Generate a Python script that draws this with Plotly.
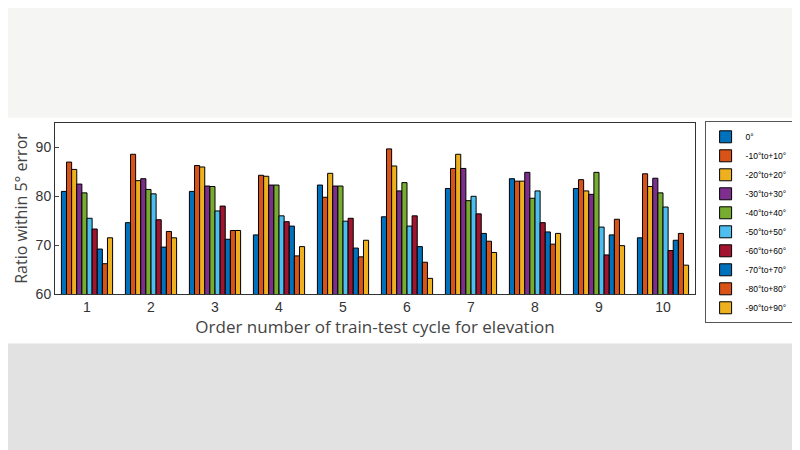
import plotly.graph_objects as go

cycles = [str(i) for i in range(1, 11)]
series_names = ["0°", "-10°to+10°", "-20°to+20°", "-30°to+30°", "-40°to+40°",
                "-50°to+50°", "-60°to+60°", "-70°to+70°", "-80°to+80°", "-90°to+90°"]

# values per cycle (rows) for each elevation range (columns)
g1 = [81.0, 87.0, 85.5, 82.5, 80.7, 75.5, 73.3, 69.2, 66.2, 71.5]
g2 = [74.6, 88.6, 83.2, 83.6, 81.4, 80.5, 75.2, 69.6, 72.8, 71.5]
g3 = [81.0, 86.3, 86.0, 82.1, 82.0, 77.0, 78.0, 71.2, 73.0, 73.0]
g4 = [72.1, 84.3, 84.1, 82.3, 82.3, 76.0, 74.8, 73.9, 67.8, 69.7]
g5 = [82.3, 79.8, 84.7, 82.1, 82.1, 74.9, 75.5, 69.4, 67.6, 71.0]
g6 = [75.8, 89.7, 86.2, 81.1, 82.8, 73.9, 76.0, 69.7, 66.5, 63.2]
g7 = [81.6, 85.7, 88.6, 85.7, 79.1, 80.0, 76.4, 72.4, 70.8, 68.5]
g8 = [83.6, 83.1, 83.1, 84.9, 79.6, 81.1, 74.6, 72.7, 70.2, 72.4]
g9 = [81.6, 83.4, 81.1, 80.4, 84.9, 73.7, 68.0, 72.1, 75.3, 69.9]
g10 = [71.5, 84.6, 82.0, 83.7, 80.7, 77.8, 68.9, 71.0, 72.4, 65.9]
groups = [g1, g2, g3, g4, g5, g6, g7, g8, g9, g10]

colors = ["#0072BD", "#D95319", "#EDB120", "#7E2F8E", "#77AC30",
          "#4DBEEE", "#A2142F", "#0072BD", "#D95319", "#EDB120"]

fig = go.Figure()
for j, name in enumerate(series_names):
    fig.add_trace(go.Bar(
        x=cycles, y=[g[j] for g in groups], name=name,
        marker=dict(color=colors[j], line=dict(color="black", width=1)),
    ))

# blurred photo bands above and below the chart
fig.add_shape(type="rect", xref="paper", yref="paper", x0=-0.1, x1=1.3, y0=1.03, y1=1.7,
              fillcolor="#f5f5f3", line_width=0, layer="below")
fig.add_shape(type="rect", xref="paper", yref="paper", x0=-0.1, x1=1.3, y0=-0.97, y1=-0.29,
              fillcolor="#e2e2e2", line_width=0, layer="below")

fig.update_layout(
    width=800, height=450,
    paper_bgcolor="white", plot_bgcolor="white",
    margin=dict(l=45, r=113, t=115, b=164),
    barmode="group", bargap=0.2, bargroupgap=0,
    font=dict(family="Arial, Liberation Sans", color="#333"),
    legend=dict(x=1.015, y=1.01, xanchor="left", yanchor="top",
                bordercolor="#555", borderwidth=1, font=dict(size=8.5, color="black"),
                tracegroupgap=0, itemwidth=30),
    xaxis=dict(title=dict(text="Order number of train-test cycle for elevation",
                          font=dict(family="Open Sans", size=17, color="#444"), standoff=4),
               tickfont=dict(size=14, color="#333"), showline=True, mirror=True,
               linecolor="#333", ticks="inside", ticklen=4),
    yaxis=dict(title=dict(text="Ratio within 5° error",
                          font=dict(family="Open Sans", size=16, color="#444"), standoff=4),
               range=[60, 95], tickvals=[60, 70, 80, 90], tickfont=dict(size=14, color="#333"),
               showline=True, mirror=True, linecolor="#333", ticks="inside", ticklen=4,
               showgrid=False, zeroline=False),
)

fig.write_html("out.html")
